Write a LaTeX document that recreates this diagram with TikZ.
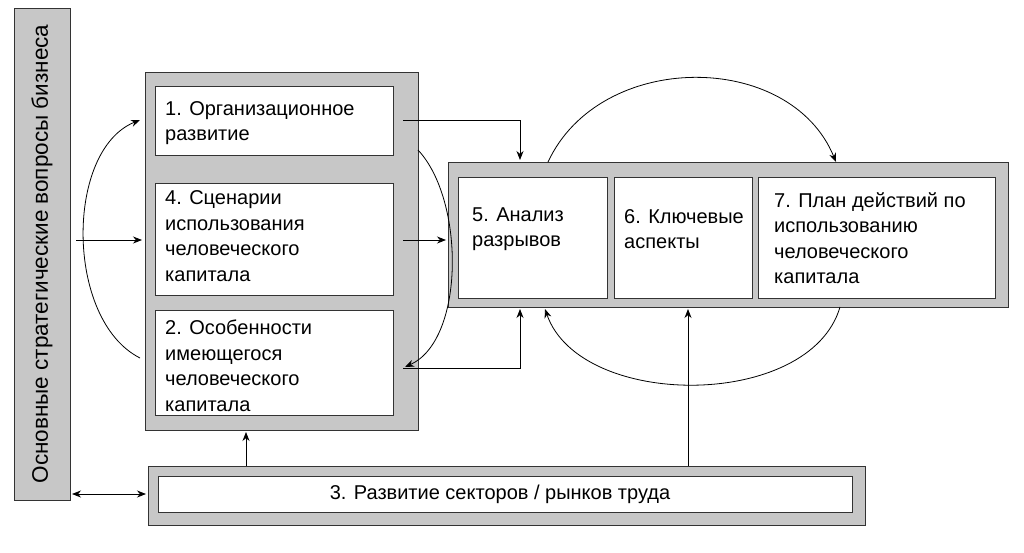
\documentclass[tikz,border=0pt]{standalone}
\usepackage{fontspec}
\setmainfont{Liberation Sans}
\usetikzlibrary{arrows.meta}
\begin{document}
\begin{tikzpicture}[x=1pt,y=-1pt,
 grp/.style={draw=black!80,fill=black!22,line width=1pt},
 wbox/.style={draw=black!80,fill=white,line width=1pt},
 txt/.style={anchor=west,align=left,font=\fontsize{20}{25.5}\selectfont,inner sep=0pt},
 arr/.style={-{Stealth[length=9pt,width=7pt]},line width=0.8pt}]
\useasboundingbox (0,0) rectangle (1024,552);
\draw[grp] (14,8) rectangle (70,500);
\node[rotate=90,font=\fontsize{22.5}{26}\selectfont] (lb) at (42,254) {Основные стратегические вопросы бизнеса};
\draw[grp] (145,72) rectangle (418,430);
\draw[wbox] (155,86) rectangle (393,155);
\draw[wbox] (155,183) rectangle (393,295);
\draw[wbox] (155,310) rectangle (393,415);
\node[txt] (t1) at (165,123) {1. Организационное\\развитие};
\node[txt] (t4) at (165,236) {4. Сценарии\\использования\\человеческого\\капитала};
\node[txt] (t2) at (165,366) {2. Особенности\\имеющегося\\человеческого\\капитала};
\draw[grp] (448,162) rectangle (1008,307);
\draw[wbox] (458,177) rectangle (607,298);
\draw[wbox] (614,177) rectangle (752,298);
\draw[wbox] (758,177) rectangle (995,298);
\node[txt] (t5) at (472,229) {5. Анализ\\разрывов};
\node[txt] (t6) at (624,229) {6. Ключевые\\аспекты};
\node[txt] (t7) at (774,238) {7. План действий по\\использованию\\человеческого\\капитала};
\draw[grp] (148,466) rectangle (865,525);
\draw[wbox] (158,476) rectangle (852,512);
\node[font=\fontsize{20}{25}\selectfont] (t3) at (500,494) {3. Развитие секторов / рынков труда};
% arrows
\draw[{Stealth[length=9pt,width=7pt]}-{Stealth[length=9pt,width=7pt]},line width=0.8pt] (72,494) -- (146,494);
\draw[arr] (246,466) -- (246,432);
\draw[arr] (688,466) -- (688,309);
\draw[arr] (403,120) -- (520,120) -- (520,160);
\draw[arr] (403,240) -- (446,240);
\draw[arr] (403,368) -- (520,368) -- (520,309);
\draw[arr] (140,358) .. controls (65,320) and (65,150) .. (140,120);
\draw[arr] (76,240) -- (142,240);
\draw[arr] (418,150) .. controls (465,200) and (465,340) .. (405,367);
\draw[arr] (548,162) .. controls (600,50) and (790,50) .. (836,162);
\draw[arr] (840,307) .. controls (810,410) and (580,410) .. (545,309);
\end{tikzpicture}
\end{document}
